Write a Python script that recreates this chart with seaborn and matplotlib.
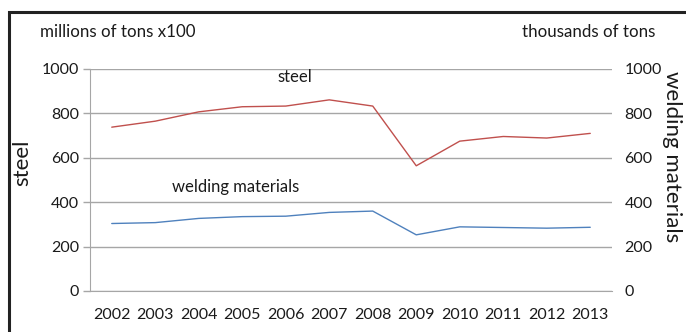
import matplotlib
matplotlib.use("Agg")
import matplotlib.pyplot as plt
from matplotlib.lines import Line2D
import seaborn as sns
import pandas as pd

years = ["2002", "2003", "2004", "2005", "2006", "2007",
         "2008", "2009", "2010", "2011", "2012", "2013"]
steel = [738, 765, 807, 830, 833, 861, 833, 564, 675, 696, 689, 710]
welding = [304, 308, 327, 335, 337, 354, 360, 253, 289, 286, 283, 287]
y_ticks = [0, 200, 400, 600, 800, 1000]

sns.set_style("white")
plt.rcParams["font.family"] = ["Lato", "DejaVu Sans"]

RED = "#C0504D"
BLUE = "#4F81BD"
GRID = "#A6A6A6"
TXT = "#1a1a1a"

df = pd.DataFrame({"year": years, "steel": steel, "welding": welding})
df["x"] = range(len(years))

W, H = 686, 332
fig = plt.figure(figsize=(W / 100, H / 100), dpi=100)
left, right, top, bottom = 90, 612, 69, 291
ax = fig.add_axes([left / W, 1 - bottom / H, (right - left) / W, (bottom - top) / H])
ax2 = ax.twinx()

sns.lineplot(data=df, x="x", y="steel", ax=ax, color=RED, linewidth=1.0)
sns.lineplot(data=df, x="x", y="welding", ax=ax2, color=BLUE, linewidth=1.0)

for a in (ax, ax2):
    a.set_xlim(-0.5, len(years) - 0.5)
    a.set_ylim(0, 1000)
    a.set_yticks(y_ticks)
    a.set_yticklabels([str(v) for v in y_ticks], fontsize=11.5, color=TXT)
    a.set_xlabel("")
    a.set_ylabel("")
    for s in a.spines.values():
        s.set_visible(False)

ax.tick_params(axis="y", length=5, color=GRID, width=1, pad=3)
ax2.tick_params(axis="y", length=0, pad=9)

ax.yaxis.grid(True, color=GRID, linewidth=1.0)
ax.set_axisbelow(True)

# x axis: category labels centered, tick marks at category boundaries
ax.set_xticks(range(len(years)))
ax.set_xticklabels(years, fontsize=11.5, color=TXT)
ax.tick_params(axis="x", which="major", length=0, pad=12)
ax.set_xticks([i - 0.5 for i in range(len(years) + 1)], minor=True)
ax.tick_params(axis="x", which="minor", length=5, color=GRID, width=1, direction="out")
ax.spines["bottom"].set_visible(True)
ax.spines["bottom"].set_color(GRID)
ax.spines["left"].set_visible(True)
ax.spines["left"].set_color(GRID)

# series labels inside the plot
ax.text(4.2, 964, "steel", ha="center", va="center", fontsize=12, color=TXT)
ax.text(2.84, 468, "welding materials", ha="center", va="center", fontsize=12, color=TXT)

# axis titles
fig.text(40 / W, 1 - 32 / H, "millions of tons x100", ha="left", va="center", fontsize=12.2, color=TXT)
fig.text(655 / W, 1 - 32 / H, "thousands of tons", ha="right", va="center", fontsize=12.2, color=TXT)
fig.text(22 / W, 1 - 163 / H, "steel", rotation=90, ha="center", va="center", fontsize=16, color=TXT)
fig.text(672 / W, 1 - 157 / H, "welding materials", rotation=270, ha="center", va="center", fontsize=16, color=TXT)

# outer frame (left and top edges)
fig.add_artist(Line2D([9 / W, 9 / W, 1.0], [0.0, 1 - 12 / H, 1 - 12 / H],
                      transform=fig.transFigure, color="#222222", linewidth=2.2,
                      solid_joinstyle="miter"))

fig.savefig("out.png", dpi=100)
